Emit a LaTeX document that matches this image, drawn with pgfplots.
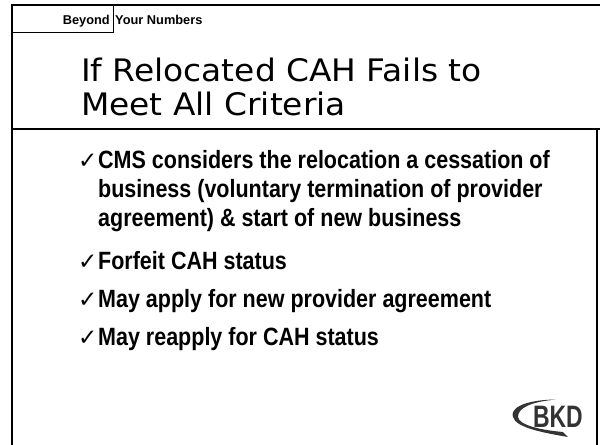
\documentclass[border=0pt]{standalone}
\usepackage{fontspec}
\usepackage{pgfplots}
\pgfplotsset{compat=1.18}
\setmainfont{Liberation Sans}
\newfontfamily\titlefont{DejaVu Sans}[FakeStretch=1.06]
\newfontfamily\bulletfont{Liberation Sans}[UprightFont=*-Bold, FakeStretch=0.86]
\newfontfamily\logofont{Liberation Sans}[UprightFont=*-Bold, FakeStretch=0.74]
\newfontfamily\symfont{DejaVu Sans}
\definecolor{logogray}{HTML}{333333}
\tikzset{chk/.style={anchor=base west, inner sep=0pt, font=\symfont\fontsize{23bp}{26bp}\selectfont},
  btxt/.style={anchor=base west, inner sep=0pt, font=\bulletfont\fontsize{25bp}{28bp}\selectfont},
  ttxt/.style={anchor=base west, inner sep=0pt, font=\titlefont\fontsize{31bp}{34bp}\selectfont}}
\begin{document}
\begin{tikzpicture}
\path[use as bounding box] (0,0) rectangle (600bp,445bp);
\begin{axis}[scale only axis, width=600bp, height=445bp,
  xmin=0, xmax=600, ymin=0, ymax=445, y dir=reverse,
  hide axis, clip=false, enlargelimits=false]
\addplot[black, line width=2bp] coordinates {(12,445) (12,5) (600,5)};
\addplot[black, line width=2bp] coordinates {(12,129) (600,129)};
\addplot[black, line width=2bp] coordinates {(597,129) (597,445)};
\addplot[black, line width=1bp] coordinates {(12,33) (113,33) (113,5)};
\node[anchor=base east, inner sep=0pt, font=\fontsize{12.8bp}{14bp}\selectfont\bfseries] at (axis cs:110,24.5) {Beyond};
\node[anchor=base west, inner sep=0pt, font=\fontsize{12.8bp}{14bp}\selectfont\bfseries] at (axis cs:115,24.5) {Your Numbers};
\node[ttxt] at (axis cs:81,82) {If Relocated CAH Fails to};
\node[ttxt] at (axis cs:81,115) {Meet All Criteria};
\node[chk] at (axis cs:78,168) {✓};
\node[btxt] at (axis cs:98,168) {CMS considers the relocation a cessation of};
\node[btxt] at (axis cs:98,197) {business (voluntary termination of provider};
\node[btxt] at (axis cs:98,226) {agreement) \& start of new business};
\node[chk] at (axis cs:78,269) {✓};
\node[btxt] at (axis cs:98,269) {Forfeit CAH status};
\node[chk] at (axis cs:78,307) {✓};
\node[btxt] at (axis cs:98,307) {May apply for new provider agreement};
\node[chk] at (axis cs:78,345) {✓};
\node[btxt] at (axis cs:98,345) {May reapply for CAH status};
% logo
\fill[logogray] (axis cs:556,399.5) .. controls (axis cs:520,400) and (axis cs:510,410) .. (axis cs:513,417)
  .. controls (axis cs:516,428) and (axis cs:545,433) .. (axis cs:568,437)
  -- (axis cs:563,432) .. controls (axis cs:540,430) and (axis cs:519,425) .. (axis cs:518,417)
  .. controls (axis cs:518,408) and (axis cs:530,402) .. (axis cs:556,399.5) -- cycle;
\node[anchor=base east, inner sep=0pt, text=logogray, font=\logofont\fontsize{31bp}{31bp}\selectfont] at (axis cs:583,427) {BKD};
\end{axis}
\end{tikzpicture}
\end{document}
